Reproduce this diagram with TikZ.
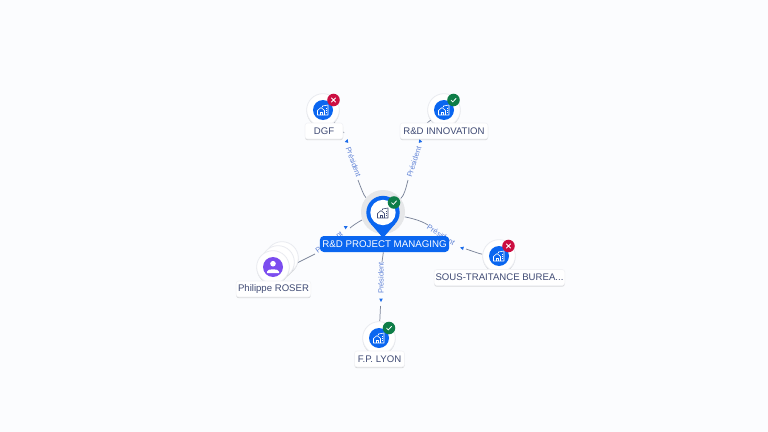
\documentclass[tikz,border=0pt]{standalone}
\usepackage{fontspec}
\setmainfont{Liberation Sans}
\usetikzlibrary{shadows,backgrounds,arrows.meta,calc}
\definecolor{bgc}{HTML}{FBFCFE}
\definecolor{blu}{HTML}{0A66F0}
\definecolor{grn}{HTML}{0E7D48}
\definecolor{rdd}{HTML}{CC0E41}
\definecolor{txt}{HTML}{3F4A74}
\definecolor{lnk}{HTML}{5F82D6}
\definecolor{edg}{HTML}{7A8499}
\definecolor{pur}{HTML}{7C4DEF}
\definecolor{halo}{HTML}{E6E7E9}
\definecolor{rim}{HTML}{E9EBF0}
\tikzset{
  x=0.75pt,y=-0.75pt,
  softsh/.style={drop shadow={opacity=.14,fill=black,shadow xshift=0pt,shadow yshift=-.9pt}},
  disc/.style={circle,fill=white,draw=rim,line width=.6pt,minimum size=24.5pt,inner sep=0pt,softsh},
  core/.style={circle,fill=blu,minimum size=15pt,inner sep=0pt},
  tag/.style={rounded corners=2pt,fill=white,draw=rim!60!white,line width=.4pt,softsh,text=txt,font=\fontsize{7.2pt}{8pt}\selectfont,inner sep=0pt,minimum height=12pt,anchor=center},
  hubtag/.style={rounded corners=3pt,fill=blu,text=white,font=\fontsize{7.3pt}{8pt}\selectfont,inner sep=0pt,minimum height=12pt,minimum width=97pt},
  rel/.style={text=lnk,font=\fontsize{5.6pt}{6pt}\selectfont,inner sep=0pt},
  edge/.style={draw=edg,line width=.55pt},
  badge/.style={circle,minimum size=9.4pt,inner sep=0pt},
}
% small house + building icon at a given centre
\newcommand{\bldg}[3]{%
 \begin{scope}[shift={(#1,#2)},draw=#3,line width=.45pt,line join=round]
  \draw (-5.5,5) -- (-5.5,0.5) -- (-2,-2.5) -- (1.5,0.5) -- (1.5,5) -- cycle;
  \draw (-3,5) -- (-3,2) -- (-1,2) -- (-1,5);
  \draw (-.5,-3) -- (-.5,-4) -- (5,-5) -- (5,5) -- (1.5,5);
  \draw (3,-2) -- (4,-2) (3,0) -- (4,0) (3,2) -- (4,2);
 \end{scope}}
\newcommand{\okmark}[2]{\draw[white,line width=.6pt,line cap=round,line join=round] ($(#1,#2)+(-2.4,.2)$) -- ($(#1,#2)+(-.7,1.9)$) -- ($(#1,#2)+(2.5,-1.6)$);}
\newcommand{\komark}[2]{\draw[white,line width=.6pt,line cap=round] ($(#1,#2)+(-2,-2)$) -- ($(#1,#2)+(2,2)$) ($(#1,#2)+(-2,2)$) -- ($(#1,#2)+(2,-2)$);}
\newcommand{\tipmark}[3]{\fill[blu!80!lnk,shift={(#1,#2)},rotate=#3] (0,-2) -- (1.8,1.5) -- (-1.8,1.5) -- cycle;}
\begin{document}
\begin{tikzpicture}
\useasboundingbox (0,0) rectangle (768,432);
% hub
\node[circle,fill=halo,minimum size=33pt,inner sep=0pt] (hub) at (383,212) {};
\fill[blu] (383,238) -- (371,224) -- (395,224) -- cycle;
\node[circle,fill=blu,minimum size=25pt,inner sep=0pt] (hubpin) at (383,212.5) {};
\node[circle,fill=white,minimum size=19pt,inner sep=0pt] (hubin) at (383,212.5) {};
\bldg{383}{213}{txt}
\node[badge,fill=grn] (hubok) at (394,202.5) {};
\okmark{394}{202.5}
\node[hubtag] (hubl) at (384.5,244) {R\&D PROJECT MANAGING};
% children
\node[disc] (dgf) at (323,110) {};
\node[core] at (323,110) (dgfc) {};
\bldg{323}{110}{white}
\node[badge,fill=rdd] (dgfb) at (333.5,100) {};
\komark{333.5}{100}
\node[tag,minimum width=28.5pt] (dgfl) at (324,131) {DGF};

\node[disc] (inn) at (444,110) {};
\node[core] at (444,110) (innc) {};
\bldg{444}{110}{white}
\node[badge,fill=grn] (innb) at (453.5,100) {};
\okmark{453.5}{100}
\node[tag,minimum width=66pt] (innl) at (444,131) {R\&D INNOVATION};

\node[disc] (sst) at (499,256) {};
\node[core] at (499,256) (sstc) {};
\bldg{499}{256}{white}
\node[badge,fill=rdd] (sstb) at (508.5,246) {};
\komark{508.5}{246}
\node[tag,minimum width=98pt] (sstl) at (499.5,277.5) {SOUS-TRAITANCE BUREA...};

\node[disc] (lyo) at (379,338) {};
\node[core] at (379,338) (lyoc) {};
\bldg{379}{338}{white}
\node[badge,fill=grn] (lyob) at (389,328) {};
\okmark{389}{328}
\node[tag,minimum width=37.5pt] (lyol) at (379.5,359) {F.P. LYON};

\node[disc] (ph3) at (282,258) {};
\node[disc] (ph2) at (278,262) {};
\node[disc] (phi) at (273,267) {};
\node[circle,fill=pur,minimum size=15pt,inner sep=0pt] (phic) at (273,267) {};
\fill[white] (273,263.7) circle[radius=2.8];
\fill[white] (267,273) -- (267,271.5) .. controls (267,268.5) and (279,268.5) .. (279,271.5) -- (279,273) -- cycle;
\node[tag,minimum width=56pt] (phil) at (273.5,289) {Philippe ROSER};

\begin{scope}[on background layer]
\fill[bgc] (0,0) rectangle (768,432);
% free ends of connector pieces
\coordinate (a1) at (344,133);  \coordinate (a2) at (358,180);
\coordinate (b1) at (427,123);  \coordinate (b2) at (408,180);
\coordinate (c1) at (466,249);  \coordinate (c2) at (428,225);
\coordinate (d1) at (297,263);  \coordinate (d2) at (350,228);
\coordinate (d3) at (315,254);
\coordinate (e1) at (380.5,306);\coordinate (e2) at (382,262);
\draw[edge] (dgf) -- (a1);
\draw[edge] (a2) .. controls (361,188) and (364,196) .. (hub);
\draw[edge] (inn) -- (b1);
\draw[edge] (b2) .. controls (406,188) and (404,196) .. (hub);
\draw[edge] (sst) .. controls (480,254) and (472,251) .. (c1);
\draw[edge] (c2) .. controls (420,220) and (410,218) .. (hub);
\draw[edge] (ph3) -- (d1) -- (d3);
\draw[edge] (d2) .. controls (356,223) and (362,220) .. (hub);
\draw[edge] (lyo) -- (e1);
\draw[edge] (hubl) -- (e2);
\node[rel,rotate=-70] (r1) at (353.5,162) {Président};
\node[rel,rotate=72] (r2) at (414,162) {Président};
\node[rel,rotate=-33] (r3) at (441,235) {Président};
\node[rel,rotate=36] (r4) at (329,242) {Président};
\node[rel,rotate=90] (r5) at (381,278) {Président};
\tipmark{347}{141}{-18}
\tipmark{420}{141}{18}
\tipmark{462}{248}{75}
\tipmark{346}{227}{-60}
\tipmark{381}{300}{180}
\end{scope}
\end{tikzpicture}
\end{document}
